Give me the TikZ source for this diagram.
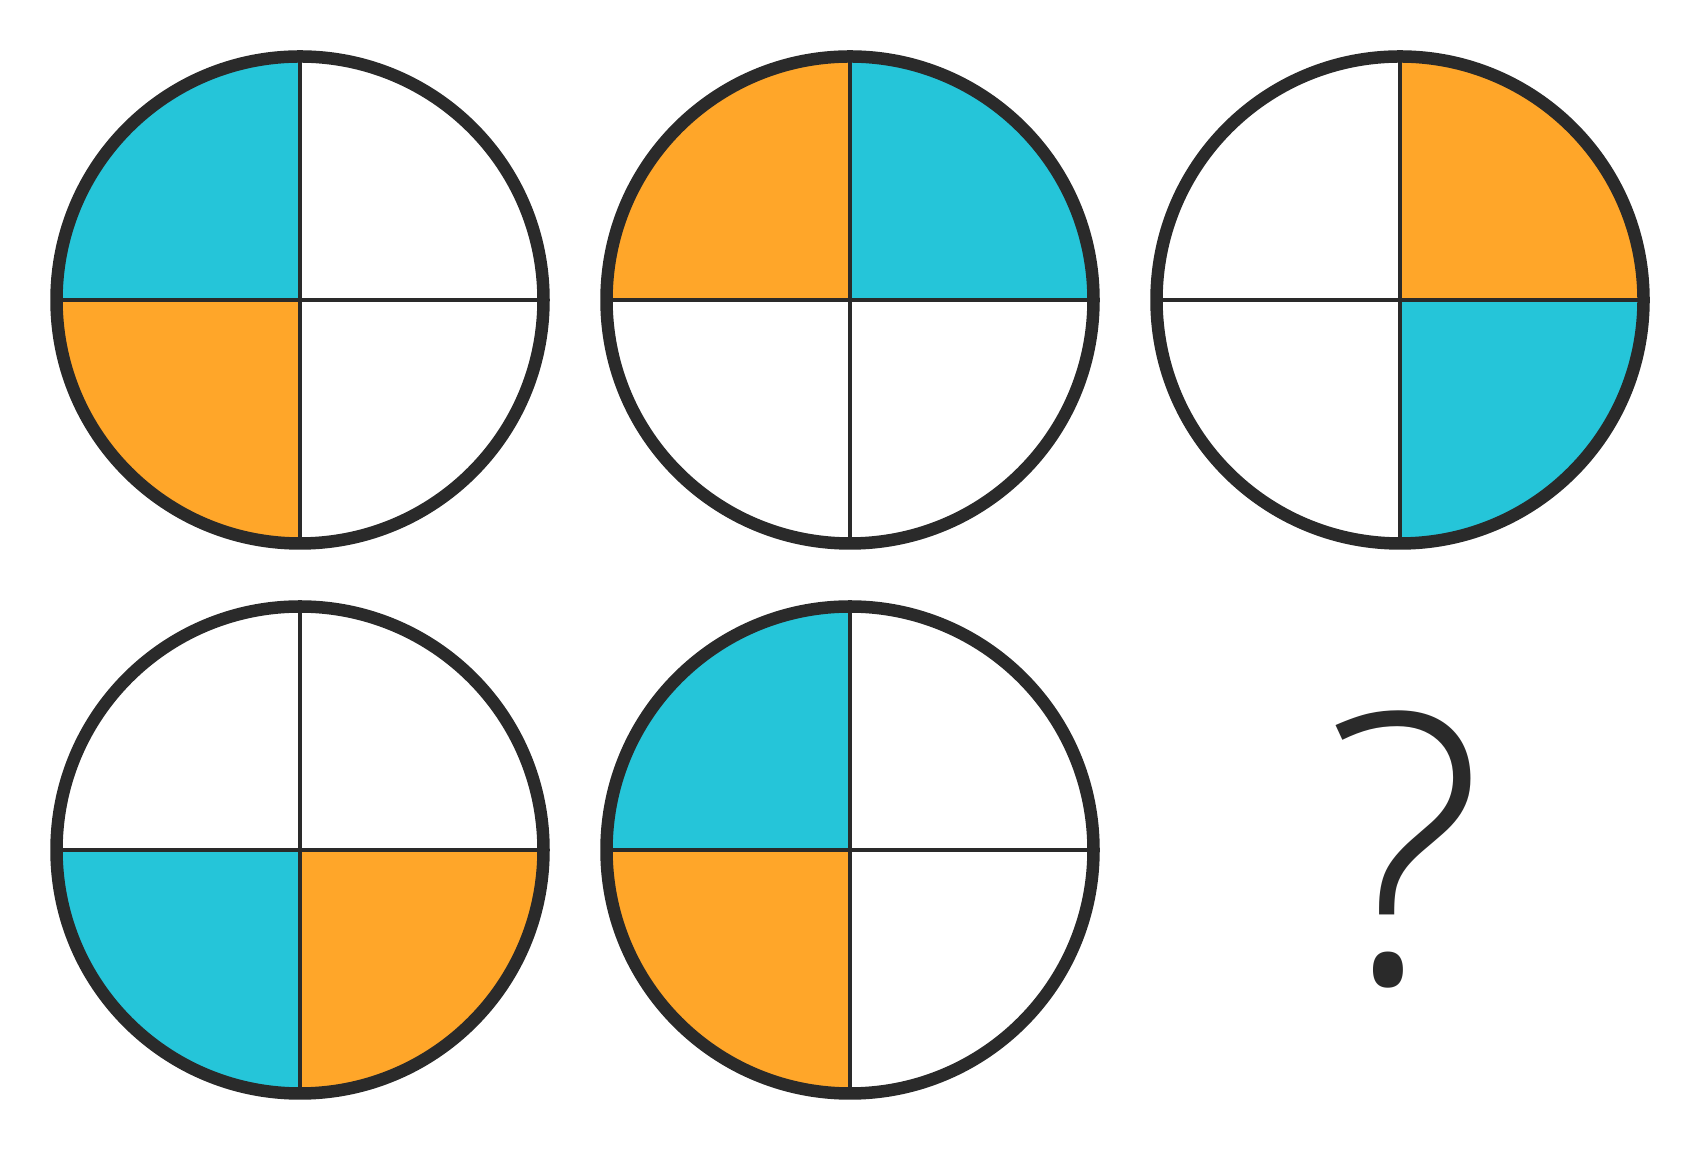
\documentclass[tikz,border=0pt]{standalone}
\usepackage{fontspec}
\newfontfamily\qfont{Open Sans Light}
\definecolor{qcyan}{HTML}{25C5D9}
\definecolor{qorange}{HTML}{FFA629}
\definecolor{qdark}{HTML}{2A2A2A}
\tikzset{
  rim/.style={draw=qdark, line width=12.5pt},
  cross/.style={draw=qdark, line width=4pt},
  qmark/.style={text=qdark, inner sep=0pt, font=\qfont\fontsize{378}{400}\selectfont}
}
\newcommand{\quadfill}[3]{% center, start angle, colour
  \fill[#3] (#1) -- ++(#2:243.5) arc[start angle=#2, end angle=#2+90, radius=243.5] -- cycle;}
\newcommand{\disc}[1]{%
  \draw[cross] ($(#1)+(0,243)$) -- ($(#1)+(0,-243)$);
  \draw[cross] ($(#1)+(-243,0)$) -- ($(#1)+(243,0)$);
  \draw[rim] (#1) circle[radius=243.5];}
\usetikzlibrary{calc}
\begin{document}
\begin{tikzpicture}[x=1pt,y=1pt]
\useasboundingbox (0,0) rectangle (1700,1150);
\fill[white] (0,0) rectangle (1700,1150);
\coordinate (c1) at (300,850);
\coordinate (c2) at (850,850);
\coordinate (c3) at (1400,850);
\coordinate (c4) at (300,300);
\coordinate (c5) at (850,300);
% circle 1
\quadfill{c1}{90}{qcyan}
\quadfill{c1}{180}{qorange}
\disc{c1}
% circle 2
\quadfill{c2}{90}{qorange}
\quadfill{c2}{0}{qcyan}
\disc{c2}
% circle 3
\quadfill{c3}{0}{qorange}
\quadfill{c3}{270}{qcyan}
\disc{c3}
% circle 4
\quadfill{c4}{180}{qcyan}
\quadfill{c4}{270}{qorange}
\disc{c4}
% circle 5
\quadfill{c5}{90}{qcyan}
\quadfill{c5}{180}{qorange}
\disc{c5}
\node[qmark] (q) at (1405,300.5) {?};
\end{tikzpicture}
\end{document}
